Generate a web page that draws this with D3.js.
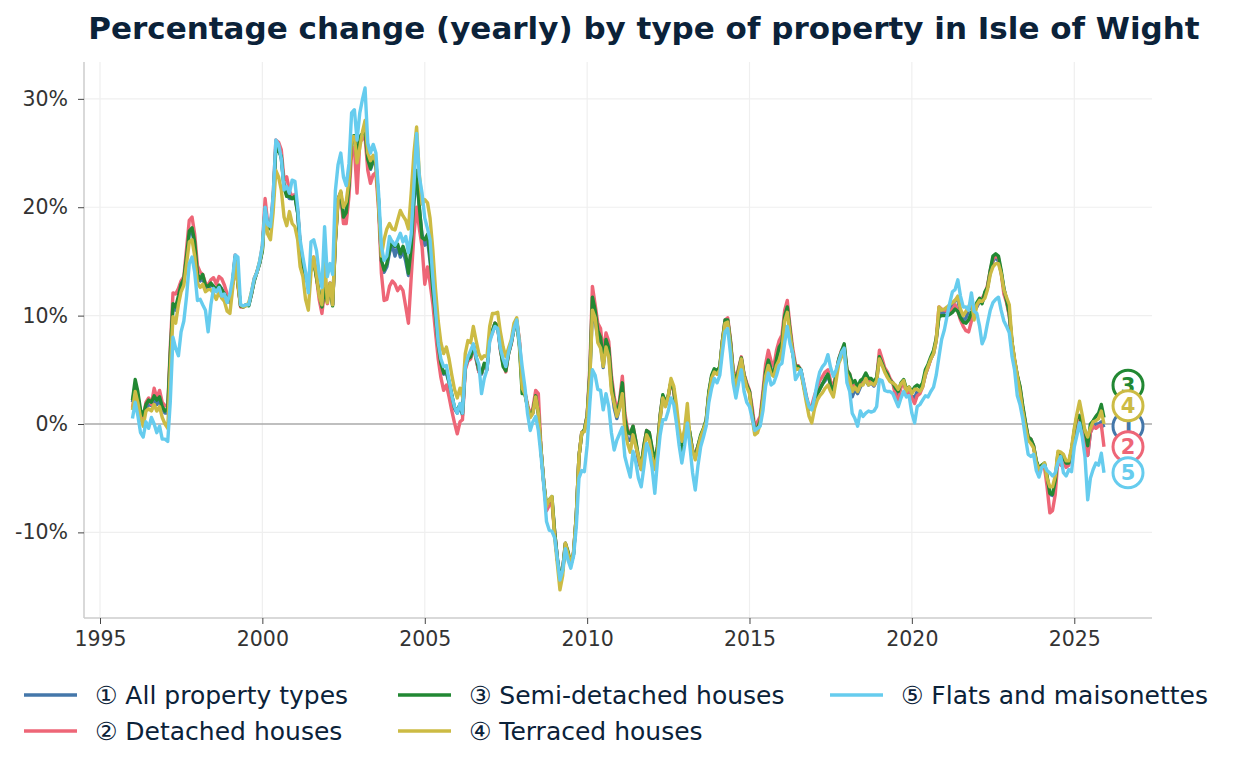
<!DOCTYPE html>
<html>
<head>
<meta charset="utf-8">
<script src="https://cdn.jsdelivr.net/npm/d3@7.9.0/dist/d3.min.js"></script>
<style>
  html, body { margin: 0; padding: 0; background: #fff; }
  svg { display: block; font-family: "DejaVu Sans", sans-serif; }
</style>
</head>
<body>
<svg id="chart" width="1236" height="770"></svg>
<script>
// --- DATA (yearly % change, monthly from Jan 1996 to Dec 2025) ---
const seriesNames = ["All property types", "Detached houses", "Semi-detached houses", "Terraced houses", "Flats and maisonettes"];
const seriesMarks = ["①", "②", "③", "④", "⑤"];
const seriesColors = ["#4477aa", "#ee6677", "#228833", "#ccbb44", "#66ccee"];
const yTicks = [-10, 0, 10, 20, 30];
const xTicks = [1995, 2000, 2005, 2010, 2015, 2020, 2025];

const allTypes = [
  2.0,3.6,2.6,1.0,0.3,1.5,1.8,1.7,2.4,1.8,2.2,1.4,
  1.0,1.0,6.0,10.8,10.5,11.5,12.6,13.2,15.5,17.6,17.8,16.5,
  13.8,13.2,13.5,12.6,12.5,12.8,12.7,12.3,12.8,12.5,11.8,11.5,
  11.2,13.0,15.4,13.0,10.9,10.8,11.0,11.0,12.0,13.2,14.0,14.8,
  16.0,20.0,18.2,18.0,20.5,25.8,25.5,24.5,22.0,21.2,20.8,20.8,
  21.0,19.5,16.5,14.8,13.5,13.2,14.5,15.2,13.6,12.0,10.8,12.5,
  11.5,13.0,11.0,17.0,20.8,21.4,19.0,19.5,22.0,26.3,26.5,24.0,
  26.5,26.8,27.0,24.2,23.5,24.2,24.0,20.5,15.0,14.0,14.5,15.8,
  16.5,15.5,16.4,15.4,16.0,15.0,13.7,16.0,20.5,23.0,19.8,17.5,
  16.5,17.0,15.0,12.5,9.8,7.0,5.5,4.6,4.7,3.8,2.6,1.4,
  1.0,1.6,0.8,5.2,6.0,6.2,7.3,6.0,4.8,4.6,5.5,5.0,
  8.0,8.6,9.3,9.0,7.0,5.5,5.0,6.5,7.5,8.8,9.5,7.5,
  3.5,2.8,1.6,0.7,1.0,2.5,1.0,-2.5,-5.5,-7.8,-7.2,-7.0,
  -10.0,-12.5,-14.2,-13.5,-11.2,-12.0,-13.0,-12.0,-8.5,-3.0,-0.8,-0.6,
  0.8,4.5,10.5,9.5,8.0,7.5,5.2,7.5,6.5,3.5,1.5,0.5,
  1.5,3.2,0.0,-1.5,-1.5,-0.6,-1.8,-3.4,-4.2,-2.5,-0.8,-1.0,
  -2.5,-4.0,-2.5,0.5,2.5,1.8,2.5,3.9,3.2,1.0,-1.5,-2.7,
  -1.0,0.3,-0.8,-2.5,-3.0,-2.0,-1.2,-0.5,0.3,2.8,4.3,5.0,
  4.8,5.2,7.5,9.4,9.5,7.5,4.8,3.8,5.0,6.0,4.5,3.6,
  3.0,1.0,-0.6,-0.4,0.3,2.5,4.8,5.9,5.0,4.6,6.0,7.0,
  7.5,9.8,10.6,8.5,6.5,5.2,5.2,4.9,3.6,2.4,1.4,1.5,
  2.2,2.8,3.2,3.7,4.0,4.6,3.6,2.8,4.5,5.9,6.5,7.0,
  4.8,4.2,2.5,3.2,2.8,3.4,3.8,4.0,3.6,3.8,3.5,4.0,
  6.0,5.5,5.0,4.5,4.0,3.8,3.0,2.6,3.6,4.0,3.0,3.2,
  2.6,2.4,3.0,3.0,3.5,4.5,5.3,6.0,6.5,7.7,10.0,10.3,
  10.3,10.5,10.5,11.0,11.4,11.5,10.2,9.5,9.8,10.5,11.0,10.4,
  10.8,11.3,11.2,11.8,12.6,14.0,15.0,15.4,15.0,14.0,12.5,11.5,
  10.0,7.4,5.8,4.4,3.2,1.5,0.0,-1.3,-1.6,-2.1,-3.5,-4.2,
  -4.0,-3.8,-5.0,-6.5,-6.6,-5.5,-2.8,-3.2,-3.2,-3.8,-3.6,-2.4,
  -0.8,0.6,0.8,-0.4,-1.0,-2.9,-0.8,-0.2,0.0,0.0,0.2,-0.3
];
const detached = [
  1.5,3.0,2.3,1.0,0.6,2.0,2.4,1.8,3.3,2.4,3.1,2.0,
  1.7,1.6,7.0,12.1,12.0,12.5,13.2,13.6,16.2,18.8,19.1,17.5,
  14.6,14.0,13.8,13.0,12.8,13.3,13.5,12.9,13.6,13.4,12.8,12.0,
  11.4,13.0,15.6,12.8,10.8,10.8,11.0,11.0,12.0,13.4,14.0,14.9,
  16.4,20.8,18.5,18.2,21.0,26.2,26.0,25.3,22.5,22.8,21.5,21.0,
  21.2,19.8,16.6,15.0,13.5,13.4,14.8,15.4,13.5,11.5,10.2,12.3,
  11.1,13.0,11.0,16.8,20.5,21.0,18.5,18.5,21.0,25.0,25.5,21.3,
  26.0,26.3,26.5,23.4,22.2,23.0,23.2,19.7,13.9,11.4,11.5,12.7,
  13.2,12.9,12.3,12.7,12.3,10.8,9.3,13.5,17.5,20.0,18.0,16.4,
  12.9,14.5,13.0,11.1,8.5,6.0,4.3,3.1,3.6,2.5,1.2,0.1,
  -0.9,0.2,0.4,5.0,5.8,6.0,7.2,6.0,4.8,4.7,5.5,5.0,
  7.8,8.4,9.3,9.0,6.8,5.6,4.8,6.5,7.4,8.8,9.5,7.8,
  4.2,3.0,1.8,0.8,1.5,3.1,2.8,-2.4,-5.5,-8.0,-7.5,-7.2,
  -10.0,-12.5,-14.2,-13.4,-11.0,-12.0,-13.0,-11.8,-8.5,-3.0,-0.8,-0.6,
  0.8,5.3,12.7,11.0,9.3,8.8,6.5,8.4,7.6,4.5,2.5,1.3,
  2.2,4.4,1.0,-0.5,-0.9,-0.2,-1.5,-3.2,-4.0,-2.0,-0.6,-0.8,
  -2.3,-3.8,-2.2,0.8,2.6,1.7,2.5,3.9,3.0,0.8,-1.5,-2.7,
  -1.0,0.1,-1.0,-2.4,-2.8,-2.0,-1.2,-0.5,0.3,2.8,4.3,4.9,
  4.6,5.0,7.6,9.6,9.8,7.8,5.0,4.2,5.2,6.2,4.6,3.8,
  3.1,1.5,-0.3,0.2,0.7,3.0,5.5,6.8,5.8,5.3,6.8,7.7,
  8.2,10.5,11.4,9.0,7.0,5.5,5.4,5.0,3.8,2.6,1.6,1.7,
  2.6,3.4,4.0,4.4,4.8,5.0,4.0,3.2,4.8,6.0,6.8,7.2,
  5.0,4.6,3.4,3.6,3.1,3.7,3.9,4.2,3.8,4.0,3.6,4.2,
  6.8,6.0,5.2,4.8,4.2,3.8,2.6,2.2,3.4,3.8,2.8,3.0,
  2.4,1.9,2.6,2.8,3.4,4.6,5.2,6.0,6.6,7.8,10.8,10.6,
  10.5,10.4,10.2,10.6,11.0,10.4,9.6,9.0,8.6,8.5,9.5,10.2,
  11.0,11.5,11.6,12.0,12.8,14.2,15.2,15.5,15.3,14.0,12.0,11.2,
  10.0,7.4,5.9,4.4,3.4,1.6,0.1,-1.2,-1.4,-2.0,-3.5,-4.3,
  -4.0,-4.0,-5.8,-8.2,-8.0,-6.5,-3.2,-3.8,-3.6,-4.0,-3.8,-2.6,
  -1.0,0.4,0.6,-0.6,-1.2,-2.9,-0.8,-0.2,-0.4,-0.2,-0.1,-2.1
];
const semiDetached = [
  2.2,4.1,3.0,1.3,0.8,1.8,2.2,2.0,2.6,2.2,2.5,1.6,
  1.2,1.4,6.5,11.1,10.8,11.8,12.9,13.4,15.5,17.8,18.1,16.8,
  13.8,13.4,13.8,12.8,12.7,13.0,12.7,12.4,12.8,12.4,12.0,11.6,
  11.4,13.0,15.4,13.0,10.9,10.8,11.0,10.9,12.0,13.2,14.0,14.8,
  16.0,19.8,18.2,18.0,20.5,25.5,25.2,24.7,21.8,21.0,21.0,20.8,
  21.0,19.5,16.4,14.8,13.4,13.0,14.4,15.0,13.5,12.1,10.8,12.5,
  11.3,12.8,10.9,16.8,20.7,21.3,19.1,19.5,22.0,26.5,26.6,24.5,
  26.5,26.8,27.1,24.4,23.6,24.4,24.2,20.5,15.1,14.2,14.8,16.1,
  16.8,16.4,16.6,15.7,16.4,15.6,13.9,16.3,21.0,23.4,20.0,17.2,
  17.0,17.5,15.5,12.4,10.0,7.3,5.6,4.7,4.9,3.9,2.7,1.5,
  1.3,1.8,1.0,5.3,6.0,6.2,7.3,6.2,5.0,4.7,5.6,5.1,
  8.0,8.6,9.3,9.0,7.0,5.3,4.9,6.5,7.5,8.8,9.4,7.2,
  2.8,2.8,1.6,0.7,1.2,2.6,1.0,-2.5,-5.5,-7.5,-7.0,-6.7,
  -10.0,-12.5,-14.0,-13.4,-11.0,-11.8,-13.0,-12.0,-8.4,-3.0,-0.9,-0.5,
  0.7,4.8,11.7,10.5,8.6,8.0,5.7,7.8,7.0,4.0,2.0,0.8,
  2.0,3.8,0.5,-0.8,-0.9,-0.2,-1.5,-3.0,-3.8,-2.0,-0.6,-0.8,
  -2.2,-3.5,-2.1,0.8,2.7,2.0,2.6,3.9,3.2,1.0,-1.5,-2.7,
  -1.0,0.3,-0.8,-2.5,-3.0,-2.0,-1.0,-0.4,0.4,3.0,4.5,5.1,
  4.9,5.3,7.6,9.6,9.6,7.6,4.8,3.9,5.0,6.1,4.5,3.6,
  3.0,1.0,-0.6,-0.4,0.3,2.5,4.8,5.9,5.0,4.6,6.0,7.1,
  7.5,10.0,10.8,8.6,6.5,5.3,5.3,5.0,3.6,2.4,1.4,1.5,
  2.2,2.8,3.2,3.7,4.2,4.6,3.6,2.9,4.6,6.0,6.7,7.4,
  5.0,4.6,3.8,4.0,3.4,4.0,4.2,4.7,4.2,4.2,3.9,4.3,
  6.2,5.6,5.0,4.6,4.0,3.8,3.3,3.0,3.8,4.1,3.2,3.4,
  3.0,3.4,3.6,3.4,3.8,5.0,5.5,6.2,6.8,7.9,9.9,10.0,
  10.0,10.0,10.1,10.3,10.6,10.4,9.8,9.4,9.3,9.6,10.3,10.5,
  11.2,11.6,11.1,12.2,12.6,14.2,15.5,15.7,15.5,14.2,12.5,11.4,
  10.2,7.5,5.9,4.5,3.5,1.7,0.2,-1.2,-1.4,-2.0,-3.4,-4.1,
  -3.8,-3.6,-4.8,-6.4,-6.5,-5.2,-2.7,-3.0,-3.0,-3.6,-3.6,-2.4,
  -0.6,0.8,0.7,-0.2,-0.6,-2.0,0.0,0.3,0.7,1.0,1.8,0.6
];
const terraced = [
  1.3,3.0,2.0,0.6,-0.2,1.2,1.4,1.2,1.8,1.2,1.6,0.6,
  0.0,-0.4,5.0,9.9,9.3,11.0,12.2,12.8,14.8,16.8,17.0,15.5,
  13.0,12.6,12.9,12.2,12.4,12.4,12.0,11.5,12.2,11.6,11.3,10.4,
  10.2,12.5,15.0,13.0,11.0,10.8,10.9,11.2,12.2,13.4,14.0,15.0,
  16.2,19.5,17.5,17.0,19.5,23.4,22.8,21.6,19.1,18.3,19.6,18.5,
  18.2,17.0,14.5,13.6,11.5,10.5,14.0,15.4,13.8,11.8,11.0,15.4,
  11.2,13.0,11.0,17.0,20.7,21.5,20.0,20.5,22.5,26.5,26.5,24.1,
  25.5,27.0,28.0,25.0,24.3,24.8,24.2,20.0,15.5,17.0,18.0,18.5,
  18.0,17.9,18.8,19.7,19.2,18.8,18.0,21.3,25.0,27.4,23.0,20.3,
  20.7,20.4,19.0,16.1,12.5,9.5,7.5,6.5,7.1,6.0,4.5,3.2,
  2.4,3.3,2.5,6.5,7.7,7.5,9.0,7.7,6.5,6.0,6.3,6.2,
  9.0,10.2,10.2,10.3,8.5,7.1,6.2,7.0,7.8,9.3,9.8,7.5,
  3.3,2.8,1.6,0.6,1.0,2.5,1.0,-2.5,-5.6,-7.6,-7.0,-6.7,
  -10.5,-13.0,-15.3,-14.0,-11.0,-12.0,-13.0,-11.8,-8.5,-3.0,-0.8,-0.7,
  0.6,4.2,10.5,9.8,7.5,7.0,5.3,7.1,6.2,3.0,1.9,0.7,
  1.5,2.8,-0.6,-1.8,-2.6,-1.0,-2.0,-3.0,-4.2,-2.5,-1.0,-1.5,
  -3.0,-4.2,-2.8,0.5,2.4,1.6,2.6,4.2,3.5,1.8,-0.5,-1.6,
  -0.5,1.9,-1.2,-2.5,-3.3,-2.2,-1.2,-0.5,0.2,2.6,4.2,4.8,
  4.6,5.0,7.4,9.3,9.4,7.2,4.6,3.2,4.8,6.0,4.4,3.4,
  2.8,0.5,-1.0,-0.8,0.0,2.2,4.4,5.4,4.6,4.4,5.4,5.9,
  6.8,9.5,10.3,8.3,6.5,5.0,5.1,4.8,3.4,2.0,0.7,0.1,
  1.4,2.2,2.6,2.9,3.3,3.6,3.0,2.5,4.0,5.6,6.2,6.6,
  4.6,4.0,3.0,3.4,3.0,3.6,3.6,4.2,3.6,3.8,3.6,4.0,
  6.0,5.4,4.8,4.3,3.9,3.8,3.6,3.2,3.7,4.0,3.0,3.4,
  2.8,3.2,3.2,3.0,3.4,4.6,5.3,6.0,6.5,7.7,10.8,10.5,
  10.6,10.8,11.0,11.2,11.4,11.8,10.6,10.0,10.4,10.8,11.4,9.6,
  11.0,11.4,11.3,11.6,12.4,13.8,14.5,14.8,14.8,13.9,12.4,11.7,
  11.0,7.6,6.0,4.4,3.0,1.2,-0.2,-1.5,-1.8,-2.2,-3.6,-4.2,
  -4.0,-3.6,-5.0,-5.8,-5.8,-4.8,-2.5,-2.6,-2.8,-3.4,-3.4,-2.2,
  -0.4,1.0,2.1,0.8,-0.6,-1.2,-0.4,0.2,0.3,0.5,1.2,0.0
];
const flats = [
  0.5,2.0,0.8,-0.8,-1.2,0.2,-0.4,0.6,0.0,-0.8,-0.2,-1.4,
  -1.4,-1.6,2.0,8.0,7.0,6.3,8.5,9.5,11.8,14.8,15.4,14.0,
  11.4,11.5,11.0,10.5,8.5,11.0,12.5,12.2,12.6,11.8,12.0,11.2,
  12.0,13.5,15.6,15.4,11.0,10.9,11.0,11.0,12.2,13.4,14.0,15.0,
  16.5,20.0,18.4,18.2,21.0,26.2,25.8,24.5,21.6,21.9,21.3,22.5,
  22.4,20.0,17.0,15.4,14.0,12.1,16.8,17.0,16.0,13.9,12.6,18.2,
  13.6,14.8,13.8,21.5,23.9,25.0,22.8,22.0,24.0,28.7,29.0,26.2,
  28.7,30.0,31.0,25.9,25.0,25.8,25.0,21.2,16.4,15.1,15.5,17.3,
  16.8,16.5,17.0,17.6,16.8,17.3,15.8,17.5,22.0,26.8,22.8,21.3,
  19.0,18.0,17.0,13.5,10.5,7.5,6.0,5.3,5.4,4.0,2.6,1.6,
  1.0,1.9,1.0,5.2,6.2,6.8,7.4,6.2,5.5,2.8,4.2,5.0,
  7.6,8.4,9.0,8.8,7.0,6.0,5.3,6.6,7.6,8.8,9.6,7.5,
  5.3,3.4,1.0,-0.6,0.2,0.7,-0.6,-3.0,-5.8,-9.0,-9.8,-9.9,
  -10.5,-12.5,-14.4,-13.5,-11.5,-12.6,-13.3,-12.2,-9.5,-5.0,-4.3,-4.4,
  -2.0,2.0,5.0,4.5,3.2,3.1,1.3,2.8,1.6,-0.8,-2.4,-1.5,
  -0.9,-0.3,-3.0,-4.0,-4.9,-2.5,-3.5,-5.0,-5.8,-4.0,-1.8,-2.5,
  -4.0,-6.4,-3.5,-1.0,0.4,0.4,1.2,2.4,1.8,0.1,-2.0,-3.6,
  -2.0,0.1,-2.0,-4.5,-6.1,-3.8,-2.1,-1.2,-0.2,2.0,3.3,4.2,
  3.8,4.5,6.5,8.5,8.8,6.5,3.8,2.4,3.8,5.0,3.0,2.0,
  1.6,0.5,-0.6,-0.4,-0.2,1.2,3.5,4.7,3.6,3.8,4.5,5.4,
  5.6,7.5,9.0,7.4,6.5,4.1,4.5,5.0,3.8,2.5,1.6,1.3,
  2.4,3.8,4.8,5.3,5.6,6.4,5.2,4.4,5.0,5.8,6.6,7.0,
  3.8,3.0,1.0,0.5,-0.2,1.2,0.7,1.0,1.2,1.1,1.2,1.6,
  4.1,4.0,3.1,3.0,3.0,2.8,2.2,1.6,2.4,3.0,2.5,2.6,
  1.0,0.1,1.6,1.8,2.2,2.6,2.5,3.0,3.4,4.5,6.2,7.8,
  8.7,10.0,11.1,12.2,12.4,13.3,11.8,10.8,10.8,10.5,12.1,10.4,
  10.2,9.0,7.4,8.0,9.3,10.5,11.2,11.5,11.7,10.5,9.5,9.0,
  8.4,6.2,5.0,2.6,1.8,0.5,-1.2,-2.8,-3.0,-2.8,-4.3,-4.9,
  -4.0,-3.8,-4.3,-4.5,-4.8,-4.5,-3.6,-3.0,-4.5,-4.8,-4.2,-4.4,
  -2.1,-1.0,0.1,-1.2,-3.0,-7.0,-5.0,-4.2,-3.6,-3.8,-2.7,-4.5
];

const seriesValues = [allTypes, detached, semiDetached, terraced, flats];
const months = d3.timeMonth.range(new Date(1996, 0, 1), new Date(2026, 0, 1));

// --- LAYOUT ---
const svg = d3.select("#chart");
const plot = { left: 84, right: 1152, top: 62, bottom: 618 };

const x = d3.scaleTime()
  .domain([new Date(1994, 6, 5), new Date(2027, 4, 25)])
  .range([plot.left, plot.right]);
const y = d3.scaleLinear()
  .domain([-17.9, 33.4])
  .range([plot.bottom, plot.top]);

const tickDate = yr => new Date(yr, 0, 1);

// gridlines
const grid = svg.append("g");
grid.selectAll("line.vx").data(xTicks).join("line")
  .attr("x1", d => x(tickDate(d))).attr("x2", d => x(tickDate(d)))
  .attr("y1", plot.top).attr("y2", plot.bottom)
  .attr("stroke", "#efefef").attr("stroke-width", 1.2);
grid.selectAll("line.hy").data(yTicks.filter(d => d !== 0)).join("line")
  .attr("x1", plot.left).attr("x2", plot.right)
  .attr("y1", d => y(d)).attr("y2", d => y(d))
  .attr("stroke", "#efefef").attr("stroke-width", 1.2);

// zero line
svg.append("line")
  .attr("x1", plot.left).attr("x2", plot.right)
  .attr("y1", y(0)).attr("y2", y(0))
  .attr("stroke", "#aaaaaa").attr("stroke-width", 1.5);

// axes
const xAxis = svg.append("g")
  .attr("transform", `translate(0,${plot.bottom})`)
  .call(d3.axisBottom(x).tickValues(xTicks.map(tickDate)).tickFormat(d3.timeFormat("%Y")).tickSizeOuter(0).tickSize(6).tickPadding(7));
const yAxis = svg.append("g")
  .attr("transform", `translate(${plot.left},0)`)
  .call(d3.axisLeft(y).tickValues(yTicks).tickFormat(d => d + "%").tickSizeOuter(0).tickSize(6).tickPadding(10));

[xAxis, yAxis].forEach(a => {
  a.select(".domain").attr("stroke", "#cccccc").attr("stroke-width", 1.5);
  a.selectAll(".tick line").attr("stroke", "#444");
  a.selectAll(".tick text")
    .attr("fill", "#333")
    .style("font-family", "DejaVu Sans, sans-serif")
    .style("font-size", "20.5px");
});
xAxis.select(".domain").attr("d", `M${plot.left},0H${plot.right}`);
yAxis.select(".domain").attr("d", `M0,${plot.top}V${plot.bottom}`);

// lines
const line = d3.line()
  .x((d, i) => x(months[i]))
  .y(d => y(d));

svg.append("g").selectAll("path")
  .data(seriesValues)
  .join("path")
  .attr("d", d => line(d))
  .attr("fill", "none")
  .attr("stroke", (d, i) => seriesColors[i])
  .attr("stroke-width", 3.4)
  .attr("stroke-linejoin", "round");

// end labels with simple collision avoidance (push upward)
const gap = 20.5;
const ends = seriesValues.map((vals, i) => ({ i, ty: y(vals[vals.length - 1]) }));
const sorted = ends.slice().sort((a, b) => b.ty - a.ty);
sorted.forEach((d, k) => {
  d.y = k === 0 ? d.ty : Math.min(d.ty, sorted[k - 1].y - gap);
});
const labelX = 1128;
const lab = svg.append("g").selectAll("g")
  .data(ends)
  .join("g")
  .attr("transform", d => `translate(${labelX},${d.y})`);
lab.append("circle")
  .attr("r", 15)
  .attr("fill", "#fff")
  .attr("stroke", d => seriesColors[d.i])
  .attr("stroke-width", 3);
lab.append("text")
  .attr("text-anchor", "middle")
  .attr("dy", "0.36em")
  .attr("fill", d => seriesColors[d.i])
  .style("font-size", "21px")
  .style("font-weight", "bold")
  .text(d => d.i + 1);

// title
svg.append("text")
  .attr("x", 644).attr("y", 39)
  .attr("text-anchor", "middle")
  .attr("fill", "#0b2239")
  .style("font-size", "31px")
  .style("font-weight", "bold")
  .text("Percentage change (yearly) by type of property in Isle of Wight");

// legend
const legendPos = [
  { x: 24, y: 695 }, { x: 24, y: 731 },
  { x: 398, y: 695 }, { x: 398, y: 731 },
  { x: 830, y: 695 }
];
const leg = svg.append("g").selectAll("g")
  .data(seriesNames)
  .join("g")
  .attr("transform", (d, i) => `translate(${legendPos[i].x},${legendPos[i].y})`);
leg.append("line")
  .attr("x1", 0).attr("x2", 53)
  .attr("stroke", (d, i) => seriesColors[i])
  .attr("stroke-width", 3.5);
leg.append("text")
  .attr("x", 71).attr("dy", "0.36em")
  .attr("fill", "#0b2239")
  .style("font-size", "25px")
  .text((d, i) => `${seriesMarks[i]} ${d}`);
</script>
</body>
</html>
